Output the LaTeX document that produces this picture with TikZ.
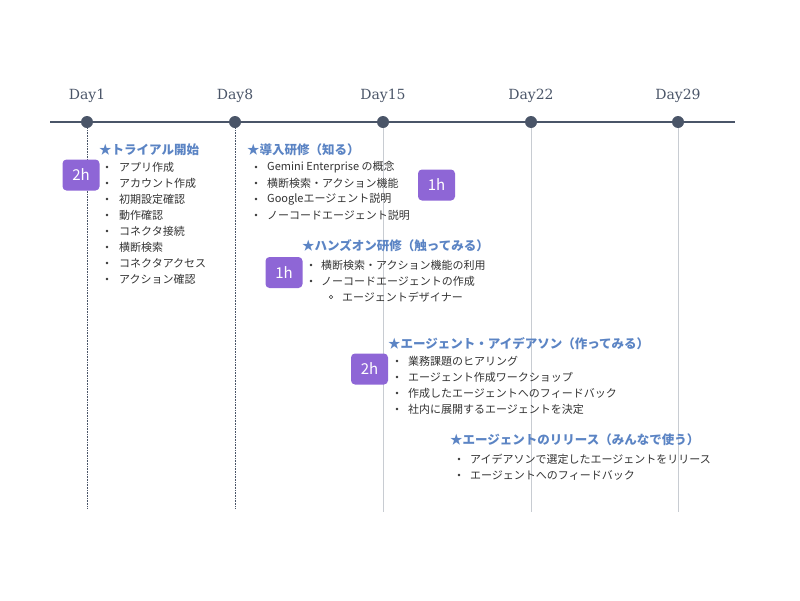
\documentclass[tikz,border=0pt]{standalone}
\usepackage{fontspec}
\setmainfont{Noto Sans CJK JP}
\newfontfamily\dayfont{DejaVu Serif}
\definecolor{ax}{HTML}{4A5568}
\definecolor{ttl}{HTML}{5B84C4}
\definecolor{txt}{HTML}{333333}
\definecolor{badge}{HTML}{8E66D6}
\definecolor{vl}{HTML}{C8CCD2}
\tikzset{
 dot/.style={circle,fill=ax,inner sep=0,minimum size=12pt},
 daylbl/.style={font=\dayfont\fontsize{14}{14}\selectfont,text=ax},
 ttlnode/.style={anchor=west,inner sep=0,font=\bfseries\fontsize{12.5}{12.5}\selectfont,text=ttl},
 item/.style={anchor=west,inner sep=0,font=\fontsize{11}{11}\selectfont,text=txt},
 bul/.style={circle,fill=txt,inner sep=0,minimum size=2.6pt},
 sub/.style={circle,draw=txt,inner sep=0,minimum size=3.5pt,line width=0.5pt},
 badgebox/.style={rounded corners=4pt,fill=badge,text=white,font=\fontsize{15}{15}\selectfont,minimum width=37pt,minimum height=31pt,inner sep=0},
}
\begin{document}
\begin{tikzpicture}[x=1pt,y=-1pt]
\useasboundingbox (0,0) rectangle (800,600);
% axis
\coordinate (L) at (50,122); \coordinate (R) at (735,122);
\draw[ax,line width=1.2pt] (L) -- (R);
\foreach \n/\x/\s/\e in {d1/87/Day1/508,d8/235/Day8/508,d15/383/Day15/512,d22/531/Day22/512,d29/678/Day29/512}{
 \coordinate (\n b) at (\x,\e);
}
\draw[ax,densely dotted,line width=0.6pt] (87,122) -- (d1b);
\draw[ax,densely dotted,line width=0.6pt] (235,122) -- (d8b);
\draw[vl,line width=0.8pt] (383,122) -- (d15b);
\draw[vl,line width=0.8pt] (531,122) -- (d22b);
\draw[vl,line width=0.8pt] (678,122) -- (d29b);
\foreach \n/\x/\s in {d1/87/Day1,d8/235/Day8,d15/383/Day15,d22/531/Day22,d29/678/Day29}{
 \node[dot] (\n) at (\x,122) {};
 \node[daylbl] (\n l) at (\x,96) {\s};
}
% block 1
\node[ttlnode] (t1) at (99,150) {★トライアル開始};
\foreach \i/\t [count=\k] in {0/アプリ作成,1/アカウント作成,2/初期設定確認,3/動作確認,4/コネクタ接続,5/横断検索,6/コネクタアクセス,7/アクション確認}{
 \node[bul] (b1\k) at (107,167+16*\i) {};
 \node[item] (i1\k) at (119,167+16*\i) {\t};
}
\node[badgebox] (h1) at (81,175) {2h};
% block 2
\node[ttlnode] (t2) at (247,150) {★導入研修（知る）};
\foreach \i/\t [count=\k] in {0/Gemini Enterprise の概念,1/横断検索・アクション機能,2/Googleエージェント説明,3/ノーコードエージェント説明}{
 \node[bul] (b2\k) at (256,167+16*\i) {};
 \node[item] (i2\k) at (267,167+16*\i) {\t};
}
\node[badgebox] (h2) at (436.5,185) {1h};
% block 3
\node[ttlnode] (t3) at (302,246) {★ハンズオン研修（触ってみる）};
\foreach \i/\t [count=\k] in {0/横断検索・アクション機能の利用,1/ノーコードエージェントの作成}{
 \node[bul] (b3\k) at (311,265+16*\i) {};
 \node[item] (i3\k) at (321,265+16*\i) {\t};
}
\node[sub] (s31) at (331,297) {};
\node[item] (i33) at (342,297) {エージェントデザイナー};
\node[badgebox] (h3) at (284,272.5) {1h};
% block 4
\node[ttlnode] (t4) at (388,344) {★エージェント・アイデアソン（作ってみる）};
\foreach \i/\t [count=\k] in {0/業務課題のヒアリング,1/エージェント作成ワークショップ,2/作成したエージェントへのフィードバック,3/社内に展開するエージェントを決定}{
 \node[bul] (b4\k) at (397,361+16*\i) {};
 \node[item] (i4\k) at (408,361+16*\i) {\t};
}
\node[badgebox] (h4) at (369.5,369) {2h};
% block 5
\node[ttlnode] (t5) at (450,440) {★エージェントのリリース（みんなで使う）};
\foreach \i/\t [count=\k] in {0/アイデアソンで選定したエージェントをリリース,1/エージェントへのフィードバック}{
 \node[bul] (b5\k) at (459,459+16*\i) {};
 \node[item] (i5\k) at (470,459+16*\i) {\t};
}
\end{tikzpicture}
\end{document}
